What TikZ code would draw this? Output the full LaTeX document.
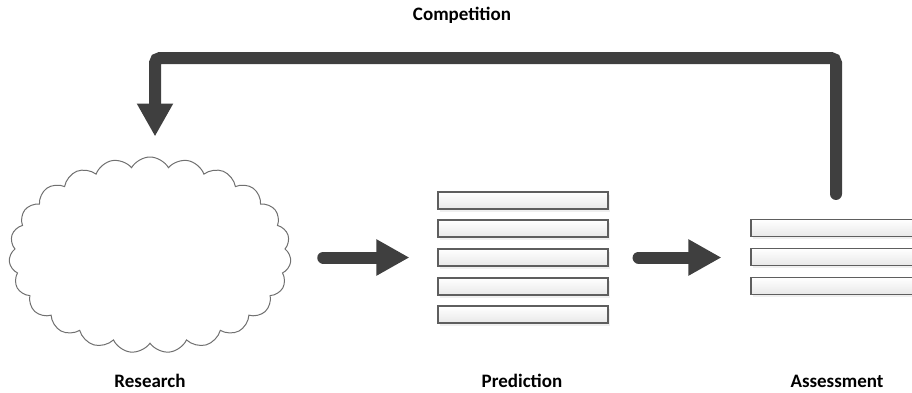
\documentclass[tikz,border=0pt]{standalone}
\usepackage{fontspec}
\setmainfont{Carlito}
\usetikzlibrary{arrows.meta,shapes.symbols,shadows,positioning}
\definecolor{arrowgray}{HTML}{3F3F3F}
\definecolor{bardraw}{HTML}{5E5E5E}
\definecolor{cloudline}{HTML}{707070}
\tikzset{
  bar/.style={draw=bardraw, line width=1.1pt, top color=white, bottom color=black!9,
    minimum width=170pt, minimum height=17pt, inner sep=0pt,
    drop shadow={shadow xshift=2pt, shadow yshift=-2.5pt, fill=black!12, opacity=0.5}},
  bigarrow/.style={draw=arrowgray, line width=12pt, line cap=round,
    -{Triangle[width=34pt,length=33pt]}},
  lbl/.style={font=\fontsize{19}{22}\selectfont\bfseries, text=black, inner sep=0pt},
  cloudshape/.style={cloud, cloud puffs=23, cloud puff arc=120, cloud ignores aspect,
    draw=cloudline, line width=1pt, minimum width=282pt, minimum height=196pt, inner sep=0pt}
}
\begin{document}
\begin{tikzpicture}[x=1pt,y=-1pt]
\useasboundingbox (0,0) rectangle (912,392);
\node[cloudshape] (research) at (150,255) {};
\node[lbl] (researchlbl) at (150,381) {Research};
\foreach \i/\y in {1/200.5,2/228.5,3/257.5,4/286.5,5/314.5}{
  \node[bar] (p\i) at (523,\y) {};
}
\node[lbl] (predlbl) at (522,381) {Prediction};
\foreach \i/\y in {1/228,2/257,3/286}{
  \node[bar] (a\i) at (836,\y) {};
}
\node[lbl] (assesslbl) at (837,381) {Assessment};
\node[lbl] (complbl) at (462,15) {Competition};
\coordinate (cr) at (836,58);
\coordinate (cl) at (155,58);
\draw[bigarrow, shorten <=33pt, shorten >=28pt] (research.east |- p3.west) -- (p3.west);
\draw[bigarrow, shorten <=30pt, shorten >=29pt] (p3.east) -- (p3.east -| a2.west);
\draw[bigarrow, rounded corners=5pt, shorten <=25pt, shorten >=20pt]
  (a1.north) -- (cr) -- (cl) -- (cl |- research.north);
\end{tikzpicture}
\end{document}
